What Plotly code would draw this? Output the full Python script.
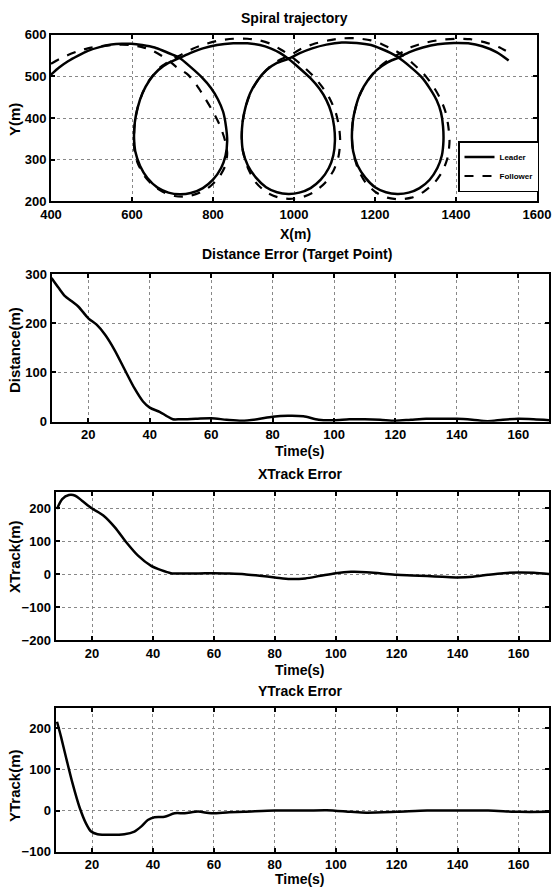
import plotly.graph_objects as go

# ---------------- data ----------------
leader_x = [400, 420, 442, 466, 491, 520, 549, 575, 598, 625, 656, 680, 700, 718,
            745, 772, 795, 812, 825, 832, 835, 831, 820, 800, 775, 745, 718, 690, 663, 638, 620, 608, 605, 607, 614, 626, 643, 665, 690, 718,
            745, 775, 810, 850, 885, 916, 942, 965, 986,
            1013, 1040, 1063, 1080, 1092, 1099, 1101, 1097, 1086, 1066, 1041, 1013, 986, 958, 931, 906, 886, 874, 871, 873, 880, 892, 910, 932, 958, 986,
            1013, 1045, 1080, 1118, 1155, 1190, 1215, 1238, 1258,
            1288, 1315, 1336, 1352, 1363, 1368, 1369, 1365, 1354, 1335, 1310, 1283, 1255, 1227, 1200, 1176, 1157, 1146, 1143, 1145, 1152, 1164, 1182, 1204, 1230, 1258,
            1285, 1318, 1355, 1395, 1430, 1465, 1500, 1530]
leader_y = [504, 521, 536, 549, 561, 570, 576, 578, 578, 575, 569, 560, 552, 544,
            522, 498, 472, 445, 415, 380, 345, 310, 280, 252, 232, 220, 217, 221, 233, 256, 285, 320, 352, 390, 425, 460, 490, 515, 532, 544,
            556, 567, 575, 579, 579, 575, 567, 556, 542,
            520, 496, 470, 443, 413, 380, 345, 310, 280, 252, 232, 221, 218, 222, 234, 257, 286, 320, 352, 390, 425, 460, 490, 515, 532, 542,
            555, 567, 576, 581, 580, 575, 566, 556, 545,
            522, 498, 470, 443, 413, 380, 345, 310, 280, 252, 232, 221, 218, 222, 234, 257, 286, 320, 352, 390, 425, 460, 490, 515, 533, 545,
            558, 569, 577, 580, 579, 572, 558, 538]

follower_x = [400, 420, 442, 466, 491, 520, 549, 575, 598, 625, 650, 672, 692, 710,
              738, 760, 780, 800, 818, 830, 835, 830, 815, 793, 765, 735, 705, 678, 652, 630, 614, 606, 605, 607, 614, 627, 645, 668, 695, 722,
              750, 780, 815, 850, 885, 916, 942, 966, 990,
              1018, 1046, 1070, 1089, 1103, 1111, 1114, 1110, 1098, 1077, 1050, 1020, 990, 960, 932, 906, 887, 875, 871, 873, 881, 894, 913, 937, 962, 990,
              1018, 1050, 1085, 1120, 1155, 1190, 1217, 1241, 1262,
              1292, 1320, 1343, 1361, 1374, 1381, 1384, 1380, 1368, 1347, 1320, 1290, 1260, 1230, 1202, 1177, 1158, 1147, 1143, 1145, 1153, 1166, 1185, 1208, 1234, 1262,
              1290, 1322, 1360, 1400, 1435, 1470, 1505, 1535]
follower_y = [530, 541, 551, 560, 567, 572, 575, 576, 575, 570, 562, 550, 537, 522,
              504, 478, 448, 415, 380, 345, 315, 285, 258, 236, 220, 212, 213, 222, 238, 262, 292, 322, 352, 390, 425, 462, 494, 520, 538, 552,
              566, 577, 586, 590, 590, 586, 578, 565, 550,
              528, 502, 474, 445, 413, 380, 345, 308, 275, 245, 223, 210, 206, 210, 222, 245, 278, 315, 352, 390, 428, 463, 494, 520, 538, 550,
              566, 578, 586, 591, 591, 586, 577, 566, 555,
              532, 506, 477, 447, 415, 380, 345, 308, 275, 245, 223, 209, 205, 209, 222, 245, 278, 315, 352, 390, 428, 463, 494, 520, 540, 555,
              570, 580, 587, 590, 589, 582, 570, 555]

t_dist = [8, 10.3, 12.4, 14.5, 16.7, 20, 22.7, 25.4, 28.5, 31.9, 35, 37.8, 40, 43.2, 45.4, 47.5, 50, 55, 60, 65, 70, 75, 80, 85, 90,
          95, 100, 105, 110, 115, 120, 125, 130, 135, 140, 145, 150, 155, 160, 165, 170]
dist = [292, 272, 255, 245, 234, 210, 197, 177, 146, 105, 68, 41, 28.5, 20, 12, 5, 5, 6, 7, 4, 2, 5, 10, 12, 11,
        4, 3, 5, 5, 4, 2, 4, 6, 6, 6, 4, 1, 4, 6, 5, 3]

t_xt = [8.5, 10.2, 12.4, 14.5, 16.7, 19.9, 23.7, 27.5, 31.3, 35.1, 39.4, 42.7, 45.9, 50, 55, 60, 65, 70, 75, 80, 85, 90, 95, 100,
        105, 110, 115, 120, 125, 130, 135, 140, 145, 150, 155, 160, 165, 170]
xtrack = [198, 228, 240, 238, 223, 200, 178, 142, 96, 56, 25, 12, 3, 2, 2, 3, 2, 0, -5, -10, -15, -13, -5, 3,
          7, 6, 2, -2, -4, -6, -8, -10, -8, -2, 3, 5, 4, 0]

t_yt = [8.5, 9.8, 11.4, 13.6, 15.8, 18, 19.7, 21.8, 26.2, 30.6, 33.9, 36.1, 38.3, 40.5, 43.8, 47.1, 50.4, 54.8, 59.1, 65, 70, 80,
        90, 97, 105, 110, 120, 130, 140, 150, 160, 170]
ytrack = [216, 180, 131, 66, 10, -31, -51, -57.5, -59, -57.5, -51, -39, -23, -16, -15, -6.5, -6.5, -2.4, -6.5, -4, -3, 0,
          0, 1, -3, -5, -3, 0, 0, 0, -3, -3]

x1_ticks = [400, 600, 800, 1000, 1200, 1400, 1600]
y1_ticks = [200, 300, 400, 500, 600]
t_ticks = [20, 40, 60, 80, 100, 120, 140, 160]
y2_ticks = [0, 100, 200, 300]
y3_ticks = [-200, -100, 0, 100, 200]
y4_ticks = [-100, 0, 100, 200]

# ---------------- figure ----------------
W, H = 552, 888
def px(v):
    return v / W
def py(v):
    return 1 - v / H

FONT = "Liberation Sans, Arial, sans-serif"

fig = go.Figure()
fig.add_trace(go.Scatter(x=leader_x, y=leader_y, mode="lines", name="Leader",
                         line=dict(color="black", width=2.5, shape="spline", smoothing=0.7),
                         xaxis="x", yaxis="y"))
fig.add_trace(go.Scatter(x=follower_x, y=follower_y, mode="lines", name="Follower",
                         line=dict(color="black", width=2.2, dash="dash", shape="spline", smoothing=0.7),
                         xaxis="x", yaxis="y"))
fig.add_trace(go.Scatter(x=t_dist, y=dist, mode="lines", showlegend=False,
                         line=dict(color="black", width=2.5, shape="spline", smoothing=0.8),
                         xaxis="x2", yaxis="y2"))
fig.add_trace(go.Scatter(x=t_xt, y=xtrack, mode="lines", showlegend=False,
                         line=dict(color="black", width=2.5, shape="spline", smoothing=0.8),
                         xaxis="x3", yaxis="y3"))
fig.add_trace(go.Scatter(x=t_yt, y=ytrack, mode="lines", showlegend=False,
                         line=dict(color="black", width=2.5, shape="spline", smoothing=0.8),
                         xaxis="x4", yaxis="y4"))

tickfont = dict(family=FONT, size=13, color="black", weight="bold")
common = dict(showline=True, mirror="allticks", linecolor="black", linewidth=2,
              ticks="inside", ticklen=4, tickwidth=1.5, tickcolor="black",
              showgrid=True, gridcolor="#888888", gridwidth=1, griddash="dot",
              zeroline=False, tickfont=tickfont, automargin=False)

doms = {
    1: ([51, 537], [34.6, 201.4]),
    2: ([51.5, 549], [274, 421.7]),
    3: ([55.5, 549], [491.8, 640]),
    4: ([55.5, 549], [707.8, 851.7]),
}
ranges = {
    1: ([400, 1600], [200, 600], x1_ticks, y1_ticks),
    2: ([8, 170], [0, 300], t_ticks, y2_ticks),
    3: ([8, 170], [-200, 250], t_ticks, y3_ticks),
    4: ([8, 170], [-100, 250], t_ticks, y4_ticks),
}
layout = {}
for i in range(1, 5):
    (xl, xr), (yt, yb) = doms[i]
    xr_, yr_, xt, yt_ = ranges[i]
    xn = "xaxis" if i == 1 else f"xaxis{i}"
    yn = "yaxis" if i == 1 else f"yaxis{i}"
    layout[xn] = dict(domain=[px(xl), px(xr)], range=xr_, tickvals=xt, anchor="y" if i == 1 else f"y{i}", **common)
    layout[yn] = dict(domain=[py(yb), py(yt)], range=yr_, tickvals=yt_, anchor="x" if i == 1 else f"x{i}", **common)

fig.update_layout(**layout)

annots = [
    ("Spiral trajectory", 294, 18, 0, 14),
    ("X(m)", 295, 234, 0, 14),
    ("Distance Error (Target Point)", 297, 254, 0, 14),
    ("Time(s)", 300, 451, 0, 14),
    ("XTrack Error", 300, 474, 0, 14),
    ("Time(s)", 300, 670, 0, 14),
    ("YTrack Error", 300, 691, 0, 14),
    ("Time(s)", 300, 879, 0, 14),
    ("Y(m)", 15, 120, -90, 15),
    ("Distance(m)", 14, 350, -90, 15),
    ("XTrack(m)", 14, 557, -90, 15),
    ("YTrack(m)", 14, 786, -90, 15),
]
for txt, x, y, ang, sz in annots:
    fig.add_annotation(text=f"<b>{txt}</b>", x=px(x), y=py(y), xref="paper", yref="paper",
                       showarrow=False, textangle=ang, xanchor="center", yanchor="middle",
                       font=dict(family=FONT, size=sz, color="black"))

fig.update_layout(
    template="none",
    width=W, height=H, margin=dict(l=0, r=0, t=0, b=0),
    paper_bgcolor="white", plot_bgcolor="white",
    legend=dict(x=px(458), y=py(141), xanchor="left", yanchor="top",
                bgcolor="white", bordercolor="black", borderwidth=1.5,
                font=dict(family=FONT, size=8, color="black", weight="bold"),
                itemwidth=30, tracegroupgap=0),
)

fig.write_html("out.html", config={"displayModeBar": False},
               post_script="document.body.style.margin='0';document.body.style.overflow='hidden';")
